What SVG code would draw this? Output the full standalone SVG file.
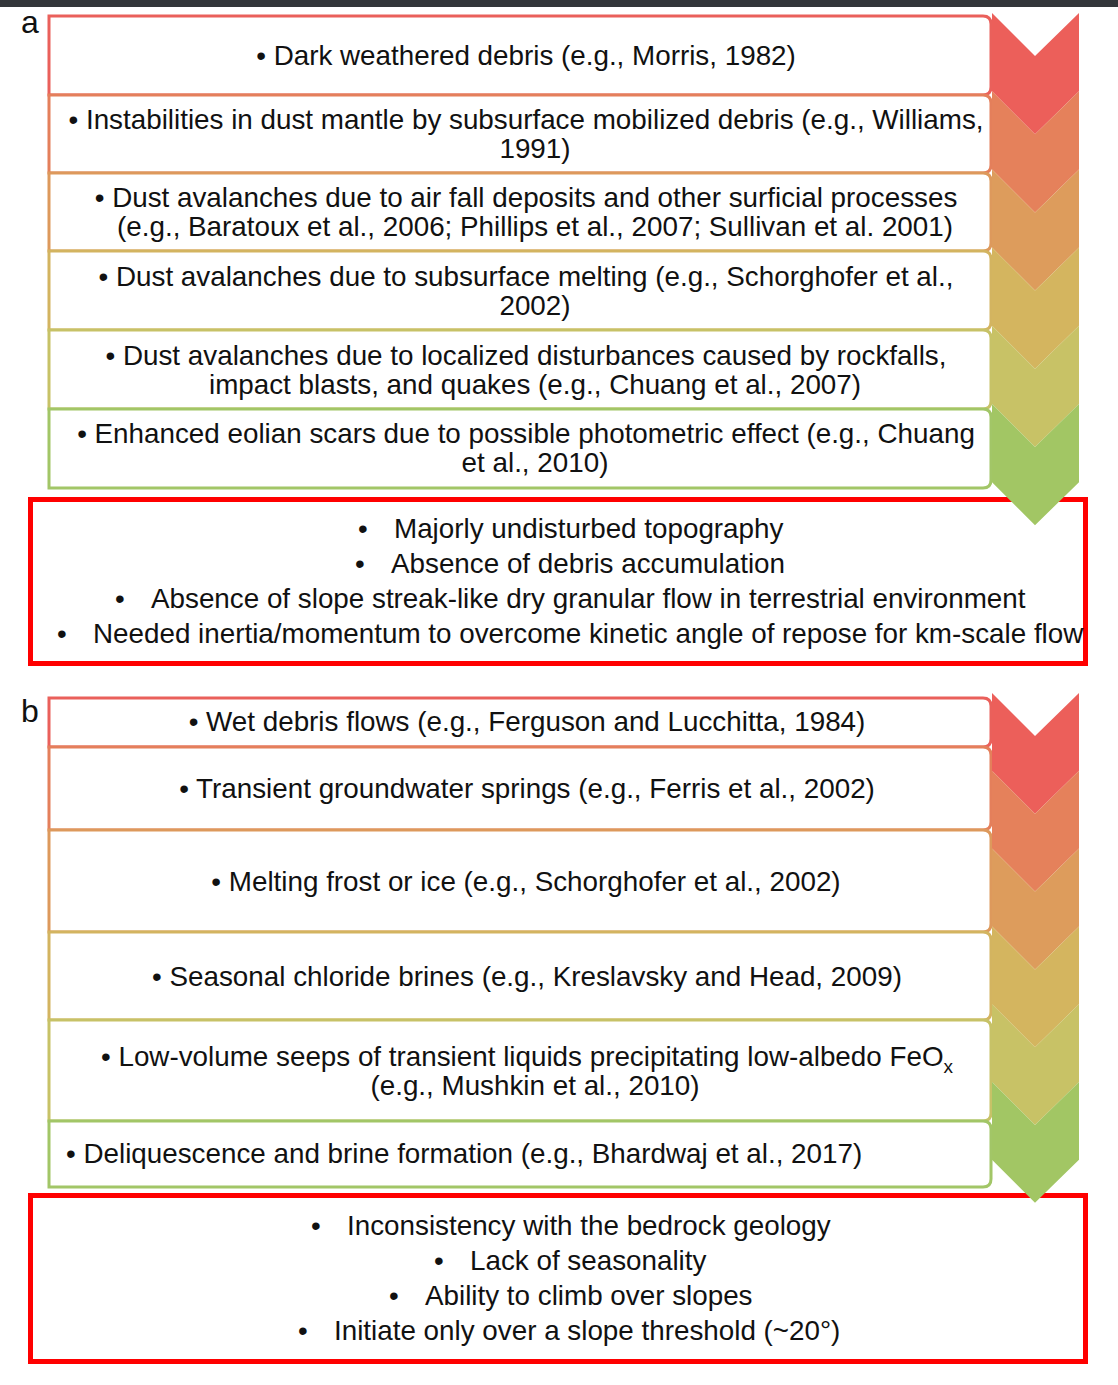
<svg xmlns="http://www.w3.org/2000/svg" width="1118" height="1385" viewBox="0 0 1118 1385">
<style>
.t{font-family:"Liberation Sans",Arial,sans-serif;font-size:27.8px;fill:#111}
.c{text-anchor:middle}
.lbl{font-family:"Liberation Sans",Arial,sans-serif;font-size:32px;fill:#111}
.box{fill:#fff;stroke-width:3}
.red{fill:#fff;stroke:#ff0000;stroke-width:5}
.c1{fill:#ec5f5a}.c2{fill:#e5815b}.c3{fill:#dd9c5c}.c4{fill:#d4b55f}.c5{fill:#c8c266}.c6{fill:#a2c664}
.s1{stroke:#ea605b}.s2{stroke:#e47f5b}.s3{stroke:#dd995c}.s4{stroke:#d3b460}.s5{stroke:#c7c267}.s6{stroke:#a2c667}
</style>
<rect x="0" y="0" width="1118" height="1385" fill="#fff"/>
<rect x="0" y="0" width="1118" height="7" fill="#33363a"/>

<text class="lbl" x="21" y="33">a</text>
<text class="lbl" x="21" y="722">b</text>

<g id="panel-a">
<g id="a1"><path class="box s1" d="M49,16 H983 Q991,16 991,24 V87 Q991,95 983,95 H49 Z"/><text class="t c" x="526" y="65">• Dark weathered debris (e.g., Morris, 1982)</text></g>
<g id="a2"><path class="box s2" d="M49,95 H983 Q991,95 991,103 V165 Q991,173 983,173 H49 Z"/><text class="t c" x="526" y="129">• Instabilities in dust mantle by subsurface mobilized debris (e.g., Williams,</text><text class="t c" x="535" y="158">1991)</text></g>
<g id="a3"><path class="box s3" d="M49,173 H983 Q991,173 991,181 V243 Q991,251 983,251 H49 Z"/><text class="t c" x="526" y="207">• Dust avalanches due to air fall deposits and other surficial processes</text><text class="t c" x="535" y="236">(e.g., Baratoux et al., 2006; Phillips et al., 2007; Sullivan et al. 2001)</text></g>
<g id="a4"><path class="box s4" d="M49,251 H983 Q991,251 991,259 V322 Q991,330 983,330 H49 Z"/><text class="t c" x="526" y="286">• Dust avalanches due to subsurface melting (e.g., Schorghofer et al.,</text><text class="t c" x="535" y="315">2002)</text></g>
<g id="a5"><path class="box s5" d="M49,330 H983 Q991,330 991,338 V401 Q991,409 983,409 H49 Z"/><text class="t c" x="526" y="365">• Dust avalanches due to localized disturbances caused by rockfalls,</text><text class="t c" x="535" y="394">impact blasts, and quakes (e.g., Chuang et al., 2007)</text></g>
<g id="a6"><path class="box s6" d="M49,409 H983 Q991,409 991,417 V480 Q991,488 983,488 H49 Z"/><text class="t c" x="526" y="443">• Enhanced eolian scars due to possible photometric effect (e.g., Chuang</text><text class="t c" x="535" y="472">et al., 2010)</text></g>
<g id="a-limits"><rect class="red" x="30.5" y="499.5" width="1055" height="164"/>
<text class="t" x="358" y="538">•</text><text class="t" x="394" y="538">Majorly undisturbed topography</text>
<text class="t" x="355" y="573">•</text><text class="t" x="391" y="573">Absence of debris accumulation</text>
<text class="t" x="115" y="608">•</text><text class="t" x="151" y="608">Absence of slope streak-like dry granular flow in terrestrial environment</text>
<text class="t" x="57" y="643">•</text><text class="t" x="93" y="643">Needed inertia/momentum to overcome kinetic angle of repose for km-scale flow</text>
</g>
</g>

<g id="panel-b">
<g id="b1"><path class="box s1" d="M49,698 H983 Q991,698 991,706 V739 Q991,747 983,747 H49 Z"/><text class="t c" x="527" y="731">• Wet debris flows (e.g., Ferguson and Lucchitta, 1984)</text></g>
<g id="b2"><path class="box s2" d="M49,747 H983 Q991,747 991,755 V822 Q991,830 983,830 H49 Z"/><text class="t c" x="527" y="798">• Transient groundwater springs (e.g., Ferris et al., 2002)</text></g>
<g id="b3"><path class="box s3" d="M49,830 H983 Q991,830 991,838 V924 Q991,932 983,932 H49 Z"/><text class="t c" x="526" y="891">• Melting frost or ice (e.g., Schorghofer et al., 2002)</text></g>
<g id="b4"><path class="box s4" d="M49,932 H983 Q991,932 991,940 V1012 Q991,1020 983,1020 H49 Z"/><text class="t c" x="527" y="986">• Seasonal chloride brines (e.g., Kreslavsky and Head, 2009)</text></g>
<g id="b5"><path class="box s5" d="M49,1020 H983 Q991,1020 991,1028 V1113 Q991,1121 983,1121 H49 Z"/><text class="t c" x="527" y="1066">• Low-volume seeps of transient liquids precipitating low-albedo FeO<tspan font-size="19" dy="7">x</tspan></text><text class="t c" x="535" y="1095">(e.g., Mushkin et al., 2010)</text></g>
<g id="b6"><path class="box s6" d="M49,1121 H983 Q991,1121 991,1129 V1179 Q991,1187 983,1187 H49 Z"/><text class="t" x="66" y="1163">• Deliquescence and brine formation (e.g., Bhardwaj et al., 2017)</text></g>
<g id="b-limits"><rect class="red" x="30.5" y="1195.5" width="1055" height="166"/>
<text class="t" x="311" y="1235">•</text><text class="t" x="347" y="1235">Inconsistency with the bedrock geology</text>
<text class="t" x="434" y="1270">•</text><text class="t" x="470" y="1270">Lack of seasonality</text>
<text class="t" x="389" y="1305">•</text><text class="t" x="425" y="1305">Ability to climb over slopes</text>
<text class="t" x="298" y="1340">•</text><text class="t" x="334" y="1340">Initiate only over a slope threshold (~20°)</text>
</g>
</g>

<g id="chevrons">
<g id="chevron-a">
<polygon class="c1" points="992,13 1035,56 1079,13 1079,91.2 1035,134.2 992,91.2"/>
<polygon class="c2" points="992,91.2 1035,134.2 1079,91.2 1079,169.4 1035,212.4 992,169.4"/>
<polygon class="c3" points="992,169.4 1035,212.4 1079,169.4 1079,247.6 1035,290.6 992,247.6"/>
<polygon class="c4" points="992,247.6 1035,290.6 1079,247.6 1079,325.8 1035,368.8 992,325.8"/>
<polygon class="c5" points="992,325.8 1035,368.8 1079,325.8 1079,404 1035,447 992,404"/>
<polygon class="c6" points="992,404 1035,447 1079,404 1079,482.2 1035,525.2 992,482.2"/>
</g>
<g id="chevron-b">
<polygon class="c1" points="992,693 1035,736 1079,693 1079,770.8 1035,813.8 992,770.8"/>
<polygon class="c2" points="992,770.8 1035,813.8 1079,770.8 1079,848.6 1035,891.6 992,848.6"/>
<polygon class="c3" points="992,848.6 1035,891.6 1079,848.6 1079,926.4 1035,969.4 992,926.4"/>
<polygon class="c4" points="992,926.4 1035,969.4 1079,926.4 1079,1004.2 1035,1047.2 992,1004.2"/>
<polygon class="c5" points="992,1004.2 1035,1047.2 1079,1004.2 1079,1082 1035,1125 992,1082"/>
<polygon class="c6" points="992,1082 1035,1125 1079,1082 1079,1159.8 1035,1202.8 992,1159.8"/>
</g>
</g>
</svg>
